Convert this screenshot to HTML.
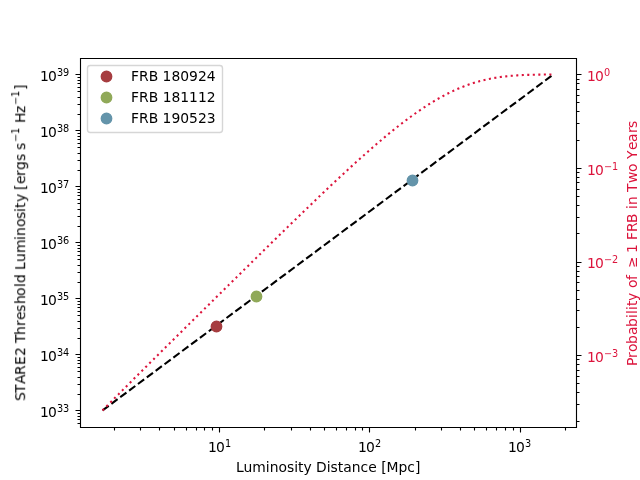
<!DOCTYPE html>
<html><head><meta charset="utf-8"><style>
html,body{margin:0;padding:0;background:#fff;width:640px;height:480px;overflow:hidden}
svg{display:block}
text{white-space:pre}
</style></head><body>
<svg width="640" height="480" viewBox="0 0 640 480">
<defs><clipPath id="clipax"><rect x="80.000" y="57.600" width="496.000" height="369.600"/></clipPath></defs>
<rect width="640" height="480" fill="#fff"/>
<g clip-path="url(#clipax)">
<path d="M 102.545 410.400 L 553.455 74.400" fill="none" stroke="#000" stroke-width="2.0833" stroke-dasharray="7.7083 3.3333" stroke-linecap="butt"/>
<circle cx="216.5" cy="326.5" r="5.2083" fill="#A63D40" stroke="#A63D40" stroke-width="1.3889"/>
<circle cx="256.5" cy="296.5" r="5.2083" fill="#90A959" stroke="#90A959" stroke-width="1.3889"/>
<circle cx="412.5" cy="180.5" r="5.2083" fill="#6494AA" stroke="#6494AA" stroke-width="1.3889"/>
</g>
<path d="M 102.55 410.40 L 103.68 409.25 L 104.81 408.11 L 105.94 406.97 L 107.07 405.82 L 108.20 404.68 L 109.33 403.54 L 110.46 402.40 L 111.59 401.26 L 112.72 400.12 L 113.85 398.98 L 114.98 397.84 L 116.11 396.71 L 117.24 395.57 L 118.37 394.43 L 119.50 393.30 L 120.63 392.16 L 121.76 391.03 L 122.89 389.89 L 124.02 388.76 L 125.15 387.63 L 126.28 386.50 L 127.41 385.36 L 128.54 384.23 L 129.67 383.10 L 130.80 381.97 L 131.93 380.84 L 133.06 379.71 L 134.19 378.58 L 135.32 377.45 L 136.45 376.33 L 137.58 375.20 L 138.71 374.07 L 139.84 372.94 L 140.97 371.82 L 142.10 370.69 L 143.23 369.57 L 144.36 368.44 L 145.49 367.31 L 146.62 366.19 L 147.75 365.07 L 148.88 363.94 L 150.01 362.82 L 151.14 361.69 L 152.27 360.57 L 153.40 359.45 L 154.53 358.33 L 155.66 357.20 L 156.79 356.08 L 157.92 354.96 L 159.05 353.84 L 160.18 352.72 L 161.31 351.60 L 162.44 350.47 L 163.57 349.35 L 164.70 348.23 L 165.83 347.11 L 166.96 345.99 L 168.09 344.87 L 169.22 343.75 L 170.35 342.63 L 171.48 341.52 L 172.61 340.40 L 173.74 339.28 L 174.87 338.16 L 176.00 337.04 L 177.13 335.92 L 178.26 334.80 L 179.39 333.69 L 180.52 332.57 L 181.65 331.45 L 182.78 330.33 L 183.91 329.21 L 185.04 328.10 L 186.17 326.98 L 187.30 325.86 L 188.43 324.75 L 189.56 323.63 L 190.69 322.51 L 191.82 321.39 L 192.95 320.28 L 194.08 319.16 L 195.21 318.04 L 196.34 316.93 L 197.47 315.81 L 198.60 314.70 L 199.73 313.58 L 200.86 312.46 L 201.99 311.35 L 203.12 310.23 L 204.25 309.12 L 205.38 308.00 L 206.51 306.88 L 207.64 305.77 L 208.77 304.65 L 209.90 303.54 L 211.03 302.42 L 212.16 301.31 L 213.30 300.19 L 214.43 299.08 L 215.56 297.96 L 216.69 296.85 L 217.82 295.73 L 218.95 294.62 L 220.08 293.50 L 221.21 292.39 L 222.34 291.27 L 223.47 290.16 L 224.60 289.04 L 225.73 287.93 L 226.86 286.81 L 227.99 285.70 L 229.12 284.58 L 230.25 283.47 L 231.38 282.36 L 232.51 281.24 L 233.64 280.13 L 234.77 279.01 L 235.90 277.90 L 237.03 276.79 L 238.16 275.67 L 239.29 274.56 L 240.42 273.45 L 241.55 272.33 L 242.68 271.22 L 243.81 270.11 L 244.94 268.99 L 246.07 267.88 L 247.20 266.77 L 248.33 265.66 L 249.46 264.54 L 250.59 263.43 L 251.72 262.32 L 252.85 261.21 L 253.98 260.10 L 255.11 258.99 L 256.24 257.87 L 257.37 256.76 L 258.50 255.65 L 259.63 254.54 L 260.76 253.43 L 261.89 252.32 L 263.02 251.21 L 264.15 250.10 L 265.28 248.99 L 266.41 247.88 L 267.54 246.77 L 268.67 245.67 L 269.80 244.56 L 270.93 243.45 L 272.06 242.34 L 273.19 241.23 L 274.32 240.13 L 275.45 239.02 L 276.58 237.91 L 277.71 236.81 L 278.84 235.70 L 279.97 234.60 L 281.10 233.49 L 282.23 232.39 L 283.36 231.28 L 284.49 230.18 L 285.62 229.08 L 286.75 227.98 L 287.88 226.87 L 289.01 225.77 L 290.14 224.67 L 291.27 223.57 L 292.40 222.47 L 293.53 221.37 L 294.66 220.27 L 295.79 219.18 L 296.92 218.08 L 298.05 216.98 L 299.18 215.89 L 300.31 214.79 L 301.44 213.70 L 302.57 212.60 L 303.70 211.51 L 304.83 210.42 L 305.96 209.33 L 307.09 208.23 L 308.22 207.15 L 309.35 206.06 L 310.48 204.97 L 311.61 203.88 L 312.74 202.79 L 313.87 201.71 L 315.00 200.63 L 316.13 199.54 L 317.26 198.46 L 318.39 197.38 L 319.52 196.30 L 320.65 195.22 L 321.78 194.14 L 322.91 193.07 L 324.04 191.99 L 325.17 190.92 L 326.30 189.84 L 327.43 188.77 L 328.57 187.70 L 329.70 186.63 L 330.83 185.57 L 331.96 184.50 L 333.09 183.44 L 334.22 182.37 L 335.35 181.31 L 336.48 180.25 L 337.61 179.20 L 338.74 178.14 L 339.87 177.08 L 341.00 176.03 L 342.13 174.98 L 343.26 173.93 L 344.39 172.88 L 345.52 171.84 L 346.65 170.80 L 347.78 169.75 L 348.91 168.72 L 350.04 167.68 L 351.17 166.64 L 352.30 165.61 L 353.43 164.58 L 354.56 163.55 L 355.69 162.53 L 356.82 161.50 L 357.95 160.48 L 359.08 159.46 L 360.21 158.45 L 361.34 157.43 L 362.47 156.42 L 363.60 155.42 L 364.73 154.41 L 365.86 153.41 L 366.99 152.41 L 368.12 151.41 L 369.25 150.42 L 370.38 149.43 L 371.51 148.44 L 372.64 147.46 L 373.77 146.48 L 374.90 145.50 L 376.03 144.53 L 377.16 143.56 L 378.29 142.59 L 379.42 141.63 L 380.55 140.67 L 381.68 139.72 L 382.81 138.77 L 383.94 137.82 L 385.07 136.87 L 386.20 135.94 L 387.33 135.00 L 388.46 134.07 L 389.59 133.14 L 390.72 132.22 L 391.85 131.31 L 392.98 130.39 L 394.11 129.49 L 395.24 128.58 L 396.37 127.68 L 397.50 126.79 L 398.63 125.90 L 399.76 125.02 L 400.89 124.14 L 402.02 123.27 L 403.15 122.40 L 404.28 121.54 L 405.41 120.69 L 406.54 119.83 L 407.67 118.99 L 408.80 118.15 L 409.93 117.32 L 411.06 116.49 L 412.19 115.67 L 413.32 114.86 L 414.45 114.05 L 415.58 113.25 L 416.71 112.46 L 417.84 111.67 L 418.97 110.89 L 420.10 110.11 L 421.23 109.34 L 422.36 108.58 L 423.49 107.83 L 424.62 107.09 L 425.75 106.35 L 426.88 105.62 L 428.01 104.89 L 429.14 104.18 L 430.27 103.47 L 431.40 102.77 L 432.53 102.08 L 433.66 101.39 L 434.79 100.72 L 435.92 100.05 L 437.05 99.39 L 438.18 98.74 L 439.31 98.09 L 440.44 97.46 L 441.57 96.83 L 442.70 96.22 L 443.84 95.61 L 444.97 95.01 L 446.10 94.42 L 447.23 93.84 L 448.36 93.27 L 449.49 92.70 L 450.62 92.15 L 451.75 91.61 L 452.88 91.07 L 454.01 90.54 L 455.14 90.03 L 456.27 89.52 L 457.40 89.02 L 458.53 88.53 L 459.66 88.06 L 460.79 87.59 L 461.92 87.13 L 463.05 86.68 L 464.18 86.24 L 465.31 85.81 L 466.44 85.39 L 467.57 84.98 L 468.70 84.58 L 469.83 84.18 L 470.96 83.80 L 472.09 83.43 L 473.22 83.07 L 474.35 82.71 L 475.48 82.37 L 476.61 82.03 L 477.74 81.71 L 478.87 81.39 L 480.00 81.09 L 481.13 80.79 L 482.26 80.50 L 483.39 80.22 L 484.52 79.95 L 485.65 79.69 L 486.78 79.43 L 487.91 79.19 L 489.04 78.95 L 490.17 78.73 L 491.30 78.51 L 492.43 78.29 L 493.56 78.09 L 494.69 77.90 L 495.82 77.71 L 496.95 77.53 L 498.08 77.36 L 499.21 77.19 L 500.34 77.03 L 501.47 76.88 L 502.60 76.73 L 503.73 76.60 L 504.86 76.46 L 505.99 76.34 L 507.12 76.22 L 508.25 76.10 L 509.38 76.00 L 510.51 75.89 L 511.64 75.80 L 512.77 75.70 L 513.90 75.62 L 515.03 75.53 L 516.16 75.46 L 517.29 75.38 L 518.42 75.31 L 519.55 75.25 L 520.68 75.19 L 521.81 75.13 L 522.94 75.07 L 524.07 75.02 L 525.20 74.98 L 526.33 74.93 L 527.46 74.89 L 528.59 74.85 L 529.72 74.82 L 530.85 74.78 L 531.98 74.75 L 533.11 74.72 L 534.24 74.70 L 535.37 74.67 L 536.50 74.65 L 537.63 74.63 L 538.76 74.61 L 539.89 74.59 L 541.02 74.57 L 542.15 74.56 L 543.28 74.54 L 544.41 74.53 L 545.54 74.52 L 546.67 74.51 L 547.80 74.50 L 548.93 74.49 L 550.06 74.48 L 551.19 74.47 L 552.32 74.46 L 553.45 74.46" fill="none" stroke="#dc143c" stroke-width="2.0833" stroke-dasharray="2.0833 3.4375" stroke-linecap="butt" clip-path="url(#clipax)"/>
<path d="M 219.5 427.5 V 432.5 M 369.5 427.5 V 432.5 M 520.5 427.5 V 432.5 M 114.5 427.5 V 430.5 M 140.5 427.5 V 430.5 M 159.5 427.5 V 430.5 M 174.5 427.5 V 430.5 M 186.5 427.5 V 430.5 M 196.5 427.5 V 430.5 M 204.5 427.5 V 430.5 M 212.5 427.5 V 430.5 M 264.5 427.5 V 430.5 M 291.5 427.5 V 430.5 M 310.5 427.5 V 430.5 M 324.5 427.5 V 430.5 M 336.5 427.5 V 430.5 M 346.5 427.5 V 430.5 M 355.5 427.5 V 430.5 M 362.5 427.5 V 430.5 M 415.5 427.5 V 430.5 M 441.5 427.5 V 430.5 M 460.5 427.5 V 430.5 M 474.5 427.5 V 430.5 M 486.5 427.5 V 430.5 M 496.5 427.5 V 430.5 M 505.5 427.5 V 430.5 M 513.5 427.5 V 430.5 M 565.5 427.5 V 430.5 M 80.5 410.5 H 75.5 M 80.5 354.5 H 75.5 M 80.5 298.5 H 75.5 M 80.5 242.5 H 75.5 M 80.5 186.5 H 75.5 M 80.5 130.5 H 75.5 M 80.5 74.5 H 75.5 M 80.5 423.5 H 77.5 M 80.5 419.5 H 77.5 M 80.5 416.5 H 77.5 M 80.5 413.5 H 77.5 M 80.5 394.5 H 77.5 M 80.5 384.5 H 77.5 M 80.5 377.5 H 77.5 M 80.5 371.5 H 77.5 M 80.5 367.5 H 77.5 M 80.5 363.5 H 77.5 M 80.5 360.5 H 77.5 M 80.5 357.5 H 77.5 M 80.5 338.5 H 77.5 M 80.5 328.5 H 77.5 M 80.5 321.5 H 77.5 M 80.5 315.5 H 77.5 M 80.5 311.5 H 77.5 M 80.5 307.5 H 77.5 M 80.5 304.5 H 77.5 M 80.5 301.5 H 77.5 M 80.5 282.5 H 77.5 M 80.5 272.5 H 77.5 M 80.5 265.5 H 77.5 M 80.5 259.5 H 77.5 M 80.5 255.5 H 77.5 M 80.5 251.5 H 77.5 M 80.5 248.5 H 77.5 M 80.5 245.5 H 77.5 M 80.5 226.5 H 77.5 M 80.5 216.5 H 77.5 M 80.5 209.5 H 77.5 M 80.5 203.5 H 77.5 M 80.5 199.5 H 77.5 M 80.5 195.5 H 77.5 M 80.5 192.5 H 77.5 M 80.5 189.5 H 77.5 M 80.5 170.5 H 77.5 M 80.5 160.5 H 77.5 M 80.5 153.5 H 77.5 M 80.5 147.5 H 77.5 M 80.5 143.5 H 77.5 M 80.5 139.5 H 77.5 M 80.5 136.5 H 77.5 M 80.5 133.5 H 77.5 M 80.5 114.5 H 77.5 M 80.5 104.5 H 77.5 M 80.5 97.5 H 77.5 M 80.5 91.5 H 77.5 M 80.5 87.5 H 77.5 M 80.5 83.5 H 77.5 M 80.5 80.5 H 77.5 M 80.5 77.5 H 77.5 M 576.5 355.5 H 581.5 M 576.5 262.5 H 581.5 M 576.5 168.5 H 581.5 M 576.5 74.5 H 581.5 M 576.5 421.5 H 579.5 M 576.5 404.5 H 579.5 M 576.5 392.5 H 579.5 M 576.5 383.5 H 579.5 M 576.5 376.5 H 579.5 M 576.5 370.5 H 579.5 M 576.5 364.5 H 579.5 M 576.5 359.5 H 579.5 M 576.5 327.5 H 579.5 M 576.5 310.5 H 579.5 M 576.5 299.5 H 579.5 M 576.5 290.5 H 579.5 M 576.5 282.5 H 579.5 M 576.5 276.5 H 579.5 M 576.5 271.5 H 579.5 M 576.5 266.5 H 579.5 M 576.5 233.5 H 579.5 M 576.5 217.5 H 579.5 M 576.5 205.5 H 579.5 M 576.5 196.5 H 579.5 M 576.5 189.5 H 579.5 M 576.5 182.5 H 579.5 M 576.5 177.5 H 579.5 M 576.5 172.5 H 579.5 M 576.5 140.5 H 579.5 M 576.5 123.5 H 579.5 M 576.5 111.5 H 579.5 M 576.5 102.5 H 579.5 M 576.5 95.5 H 579.5 M 576.5 89.5 H 579.5 M 576.5 83.5 H 579.5 M 576.5 79.5 H 579.5" fill="none" stroke="#000" stroke-width="1.1111"/>
<path d="M 80.5 427.5 V 58.5 M 576.5 427.5 V 58.5 M 80.5 427.5 H 576.5 M 80.5 58.5 H 576.5" fill="none" stroke="#000" stroke-width="1.1111" stroke-linecap="square" stroke-linejoin="miter"/>
<g><rect x="87.5" y="65.5" width="135.0" height="67.0" rx="2.778" fill="#fff" fill-opacity="0.8" stroke="#ccc" stroke-opacity="0.8" stroke-width="1.3889"/>
<circle cx="106.5" cy="76.5" r="5.2083" fill="#A63D40" stroke="#A63D40" stroke-width="1.3889"/>
<circle cx="106.5" cy="97.5" r="5.2083" fill="#90A959" stroke="#90A959" stroke-width="1.3889"/>
<circle cx="106.5" cy="118.5" r="5.2083" fill="#6494AA" stroke="#6494AA" stroke-width="1.3889"/></g>
<g transform="scale(1.3888889)" style="will-change:transform">
<g id="text_1" transform="translate(0.291 3.248)">
      
      <g transform="translate(148.90613 322.182437)">
       <text>
        <tspan x="0.5040" y="-0.064063" style="font-size: 10px; font-family: 'DejaVu Sans', sans-serif">1</tspan>
        <tspan x="6.362305" y="-0.064063" style="font-size: 10px; font-family: 'DejaVu Sans', sans-serif">0</tspan>
        <tspan x="12.820312" y="-3.892188" style="font-size: 7px; font-family: 'DejaVu Sans', sans-serif">1</tspan>
       </text>
      </g>
     </g>
    
<g id="text_2" transform="translate(0.054 4.145)">
      
      <g transform="translate(257.124312 322.182437)">
       <text>
        <tspan x="0.5040" y="-0.976562" style="font-size: 10px; font-family: 'DejaVu Sans', sans-serif">1</tspan>
        <tspan x="6.362305" y="-0.976562" style="font-size: 10px; font-family: 'DejaVu Sans', sans-serif">0</tspan>
        <tspan x="12.820312" y="-4.804688" style="font-size: 7px; font-family: 'DejaVu Sans', sans-serif">2</tspan>
       </text>
      </g>
     </g>
    
<g id="text_3" transform="translate(-0.245 4.172)">
      
      <g transform="translate(365.342494 322.182437)">
       <text>
        <tspan x="0.5760" y="-0.976562" style="font-size: 10px; font-family: 'DejaVu Sans', sans-serif">1</tspan>
        <tspan x="6.362305" y="-0.976562" style="font-size: 10px; font-family: 'DejaVu Sans', sans-serif">0</tspan>
        <tspan x="12.820312" y="-4.804688" style="font-size: 7px; font-family: 'DejaVu Sans', sans-serif">3</tspan>
       </text>
      </g>
     </g>
    
<g id="text_4" transform="translate(0.135 3.647)">
     <text style="font-size: 10px; font-family: 'DejaVu Sans', 'Bitstream Vera Sans', 'Computer Modern Sans Serif', 'Lucida Grande', 'Verdana', 'Geneva', 'Lucid', 'Arial', 'Helvetica', 'Avant Garde', sans-serif; text-anchor: middle" x="236.16" y="335.860562" transform="rotate(-0 236.16 335.860562)">Luminosity Distance [Mpc]</text>
    </g>
   
<g id="text_5" transform="translate(-0.280 1.842)">
      
      <g transform="translate(28.5 299.287219)">
       <text>
        <tspan x="0.5040" y="-0.976562" style="font-size: 10px; font-family: 'DejaVu Sans', sans-serif">1</tspan>
        <tspan x="6.362305" y="-0.976562" style="font-size: 10px; font-family: 'DejaVu Sans', sans-serif">0</tspan>
        <tspan x="12.820312" y="-4.804688" style="font-size: 7px; font-family: 'DejaVu Sans', sans-serif">3</tspan>
        <tspan x="17.0579" y="-4.804688" style="font-size: 7px; font-family: 'DejaVu Sans', sans-serif">3</tspan>
       </text>
      </g>
     </g>
    
<g id="text_6" transform="translate(-0.271 1.823)">
      
      <g transform="translate(28.5 258.967219)">
       <text>
        <tspan x="0.5040" y="-0.976562" style="font-size: 10px; font-family: 'DejaVu Sans', sans-serif">1</tspan>
        <tspan x="6.362305" y="-0.976562" style="font-size: 10px; font-family: 'DejaVu Sans', sans-serif">0</tspan>
        <tspan x="12.820312" y="-4.804688" style="font-size: 7px; font-family: 'DejaVu Sans', sans-serif">3</tspan>
        <tspan x="17.0579" y="-4.804688" style="font-size: 7px; font-family: 'DejaVu Sans', sans-serif">4</tspan>
       </text>
      </g>
     </g>
    
<g id="text_7" transform="translate(-0.322 1.806)">
      
      <g transform="translate(28.5 218.647219)">
       <text>
        <tspan x="0.5760" y="-0.976562" style="font-size: 10px; font-family: 'DejaVu Sans', sans-serif">1</tspan>
        <tspan x="6.362305" y="-0.976562" style="font-size: 10px; font-family: 'DejaVu Sans', sans-serif">0</tspan>
        <tspan x="12.820312" y="-4.804688" style="font-size: 7px; font-family: 'DejaVu Sans', sans-serif">3</tspan>
        <tspan x="17.273926" y="-4.804688" style="font-size: 7px; font-family: 'DejaVu Sans', sans-serif">5</tspan>
       </text>
      </g>
     </g>
    
<g id="text_8" transform="translate(-0.308 1.834)">
      
      <g transform="translate(28.5 178.327219)">
       <text>
        <tspan x="0.5760" y="-0.976562" style="font-size: 10px; font-family: 'DejaVu Sans', sans-serif">1</tspan>
        <tspan x="6.362305" y="-0.976562" style="font-size: 10px; font-family: 'DejaVu Sans', sans-serif">0</tspan>
        <tspan x="12.820312" y="-4.804688" style="font-size: 7px; font-family: 'DejaVu Sans', sans-serif">3</tspan>
        <tspan x="17.1299" y="-4.804688" style="font-size: 7px; font-family: 'DejaVu Sans', sans-serif">6</tspan>
       </text>
      </g>
     </g>
    
<g id="text_9" transform="translate(-0.315 1.804)">
      
      <g transform="translate(28.5 138.007219)">
       <text>
        <tspan x="0.5760" y="-0.976562" style="font-size: 10px; font-family: 'DejaVu Sans', sans-serif">1</tspan>
        <tspan x="6.362305" y="-0.976562" style="font-size: 10px; font-family: 'DejaVu Sans', sans-serif">0</tspan>
        <tspan x="12.820312" y="-4.804688" style="font-size: 7px; font-family: 'DejaVu Sans', sans-serif">3</tspan>
        <tspan x="17.1299" y="-4.804688" style="font-size: 7px; font-family: 'DejaVu Sans', sans-serif">7</tspan>
       </text>
      </g>
     </g>
    
<g id="text_10" transform="translate(-0.291 1.847)">
      
      <g transform="translate(28.5 97.687219)">
       <text>
        <tspan x="0.5760" y="-0.976562" style="font-size: 10px; font-family: 'DejaVu Sans', sans-serif">1</tspan>
        <tspan x="6.362305" y="-0.976562" style="font-size: 10px; font-family: 'DejaVu Sans', sans-serif">0</tspan>
        <tspan x="12.820312" y="-4.804688" style="font-size: 7px; font-family: 'DejaVu Sans', sans-serif">3</tspan>
        <tspan x="17.1299" y="-4.804688" style="font-size: 7px; font-family: 'DejaVu Sans', sans-serif">8</tspan>
       </text>
      </g>
     </g>
    
<g id="text_11" transform="translate(-0.291 1.848)">
      
      <g transform="translate(28.5 57.367219)">
       <text>
        <tspan x="0.5760" y="-0.976562" style="font-size: 10px; font-family: 'DejaVu Sans', sans-serif">1</tspan>
        <tspan x="6.362305" y="-0.976562" style="font-size: 10px; font-family: 'DejaVu Sans', sans-serif">0</tspan>
        <tspan x="12.820312" y="-4.804688" style="font-size: 7px; font-family: 'DejaVu Sans', sans-serif">3</tspan>
        <tspan x="17.1299" y="-4.804688" style="font-size: 7px; font-family: 'DejaVu Sans', sans-serif">9</tspan>
       </text>
      </g>
     </g>
    
<g id="text_12" transform="translate(-4.470 0.491)">
     
     <g transform="translate(22.4 288.578) rotate(-90)">
      <text>
       <tspan x="0.2880" y="-0.064063" style="font-size: 10px; font-family: 'DejaVu Sans', sans-serif">S</tspan>
       <tspan x="6.0597" y="-0.064063" style="font-size: 10px; font-family: 'DejaVu Sans', sans-serif">T</tspan>
       <tspan x="12.5281" y="-0.064063" style="font-size: 10px; font-family: 'DejaVu Sans', sans-serif">A</tspan>
       <tspan x="19.0089" y="-0.064063" style="font-size: 10px; font-family: 'DejaVu Sans', sans-serif">R</tspan>
       <tspan x="26.245117" y="-0.064063" style="font-size: 10px; font-family: 'DejaVu Sans', sans-serif">E</tspan>
       <tspan x="32.7075" y="-0.064063" style="font-size: 10px; font-family: 'DejaVu Sans', sans-serif">2</tspan>
       <tspan x="38.925781" y="-0.064063" style="font-size: 10px; font-family: 'DejaVu Sans', sans-serif"> </tspan>
       <tspan x="42.104492" y="-0.064063" style="font-size: 10px; font-family: 'DejaVu Sans', sans-serif">T</tspan>
       <tspan x="47.8529" y="-0.064063" style="font-size: 10px; font-family: 'DejaVu Sans', sans-serif">h</tspan>
       <tspan x="54.3348" y="-0.064063" style="font-size: 10px; font-family: 'DejaVu Sans', sans-serif">r</tspan>
       <tspan x="58.662109" y="-0.064063" style="font-size: 10px; font-family: 'DejaVu Sans', sans-serif">e</tspan>
       <tspan x="64.3825" y="-0.064063" style="font-size: 10px; font-family: 'DejaVu Sans', sans-serif">s</tspan>
       <tspan x="70.1684" y="-0.064063" style="font-size: 10px; font-family: 'DejaVu Sans', sans-serif">h</tspan>
       <tspan x="75.9303" y="-0.064063" style="font-size: 10px; font-family: 'DejaVu Sans', sans-serif">o</tspan>
       <tspan x="82.480469" y="-0.064063" style="font-size: 10px; font-family: 'DejaVu Sans', sans-serif">l</tspan>
       <tspan x="85.258789" y="-0.064063" style="font-size: 10px; font-family: 'DejaVu Sans', sans-serif">d</tspan>
       <tspan x="91.606445" y="-0.064063" style="font-size: 10px; font-family: 'DejaVu Sans', sans-serif"> </tspan>
       <tspan x="94.6412" y="-0.064063" style="font-size: 10px; font-family: 'DejaVu Sans', sans-serif">L</tspan>
       <tspan x="100.356445" y="-0.064063" style="font-size: 10px; font-family: 'DejaVu Sans', sans-serif">u</tspan>
       <tspan x="106.8383" y="-0.064063" style="font-size: 10px; font-family: 'DejaVu Sans', sans-serif">m</tspan>
       <tspan x="116.2195" y="-0.064063" style="font-size: 10px; font-family: 'DejaVu Sans', sans-serif">i</tspan>
       <tspan x="119.213867" y="-0.064063" style="font-size: 10px; font-family: 'DejaVu Sans', sans-serif">n</tspan>
       <tspan x="125.551758" y="-0.064063" style="font-size: 10px; font-family: 'DejaVu Sans', sans-serif">o</tspan>
       <tspan x="131.3819" y="-0.064063" style="font-size: 10px; font-family: 'DejaVu Sans', sans-serif">s</tspan>
       <tspan x="136.3759" y="-0.064063" style="font-size: 10px; font-family: 'DejaVu Sans', sans-serif">i</tspan>
       <tspan x="139.2982" y="-0.064063" style="font-size: 10px; font-family: 'DejaVu Sans', sans-serif">t</tspan>
       <tspan x="143.579102" y="-0.064063" style="font-size: 10px; font-family: 'DejaVu Sans', sans-serif">y</tspan>
       <tspan x="149.49707" y="-0.064063" style="font-size: 10px; font-family: 'DejaVu Sans', sans-serif"> </tspan>
       <tspan x="152.2438" y="-0.064063" style="font-size: 10px; font-family: 'DejaVu Sans', sans-serif">[</tspan>
       <tspan x="156.577148" y="-0.064063" style="font-size: 10px; font-family: 'DejaVu Sans', sans-serif">e</tspan>
       <tspan x="162.2975" y="-0.064063" style="font-size: 10px; font-family: 'DejaVu Sans', sans-serif">r</tspan>
       <tspan x="166.6248" y="-0.064063" style="font-size: 10px; font-family: 'DejaVu Sans', sans-serif">g</tspan>
       <tspan x="173.188477" y="-0.064063" style="font-size: 10px; font-family: 'DejaVu Sans', sans-serif">s</tspan>
       <tspan x="178.398438" y="-0.064063" style="font-size: 10px; font-family: 'DejaVu Sans', sans-serif"> </tspan>
       <tspan x="181.0011" y="-0.064063" style="font-size: 10px; font-family: 'DejaVu Sans', sans-serif">s</tspan>
       <tspan x="197.475098" y="-0.064063" style="font-size: 10px; font-family: 'DejaVu Sans', sans-serif"> </tspan>
       <tspan x="200.4378" y="-0.064063" style="font-size: 10px; font-family: 'DejaVu Sans', sans-serif">H</tspan>
       <tspan x="207.6693" y="-0.064063" style="font-size: 10px; font-family: 'DejaVu Sans', sans-serif">z</tspan>
       <tspan x="224.2544" y="-0.064063" style="font-size: 10px; font-family: 'DejaVu Sans', sans-serif">]</tspan>
       <tspan x="186.882812" y="-3.892188" style="font-size: 7px; font-family: 'DejaVu Sans', sans-serif">−</tspan>
       <tspan x="192.5320" y="-3.892188" style="font-size: 7px; font-family: 'DejaVu Sans', sans-serif">1</tspan>
       <tspan x="213.518066" y="-3.892188" style="font-size: 7px; font-family: 'DejaVu Sans', sans-serif">−</tspan>
       <tspan x="219.1673" y="-3.892188" style="font-size: 7px; font-family: 'DejaVu Sans', sans-serif">1</tspan>
      </text>
     </g>
    </g>
   
<g id="text_13" transform="translate(-0.234 -0.058)">
     <text style="font-size: 10px; font-family: 'DejaVu Sans', 'Bitstream Vera Sans', 'Computer Modern Sans Serif', 'Lucida Grande', 'Verdana', 'Geneva', 'Lucid', 'Arial', 'Helvetica', 'Avant Garde', sans-serif; text-anchor: start" x="94.6" y="58.070438" transform="rotate(-0 94.6 58.070438)">FRB 180924</text>
    </g>
    
<g id="text_14" transform="translate(-0.211 0.395)">
     <text style="font-size: 10px; font-family: 'DejaVu Sans', 'Bitstream Vera Sans', 'Computer Modern Sans Serif', 'Lucida Grande', 'Verdana', 'Geneva', 'Lucid', 'Arial', 'Helvetica', 'Avant Garde', sans-serif; text-anchor: start" x="94.6" y="72.748563" transform="rotate(-0 94.6 72.748563)">FRB 181112</text>
    </g>
    
<g id="text_15" transform="translate(-0.230 0.822)">
     <text style="font-size: 10px; font-family: 'DejaVu Sans', 'Bitstream Vera Sans', 'Computer Modern Sans Serif', 'Lucida Grande', 'Verdana', 'Geneva', 'Lucid', 'Arial', 'Helvetica', 'Avant Garde', sans-serif; text-anchor: start" x="94.6" y="87.426688" transform="rotate(-0 94.6 87.426688)">FRB 190523</text>
    </g>
   
<g id="text_16" transform="translate(0.350 2.034)">
      
      <g style="fill: #dc143c" transform="translate(421.72 259.513915)">
       <text>
        <tspan x="0.5040" y="-0.976562" style="font-size: 10px; font-family: 'DejaVu Sans', sans-serif; fill: #dc143c">1</tspan>
        <tspan x="6.362305" y="-0.976562" style="font-size: 10px; font-family: 'DejaVu Sans', sans-serif; fill: #dc143c">0</tspan>
        <tspan x="12.820312" y="-4.804688" style="font-size: 7px; font-family: 'DejaVu Sans', sans-serif; fill: #dc143c">−</tspan>
        <tspan x="18.5415" y="-4.804688" style="font-size: 7px; font-family: 'DejaVu Sans', sans-serif; fill: #dc143c">3</tspan>
       </text>
      </g>
     </g>
    
<g id="text_17" transform="translate(0.317 1.757)">
      
      <g style="fill: #dc143c" transform="translate(421.72 192.090019)">
       <text>
        <tspan x="0.5760" y="-0.976562" style="font-size: 10px; font-family: 'DejaVu Sans', sans-serif; fill: #dc143c">1</tspan>
        <tspan x="6.362305" y="-0.976562" style="font-size: 10px; font-family: 'DejaVu Sans', sans-serif; fill: #dc143c">0</tspan>
        <tspan x="12.820312" y="-4.804688" style="font-size: 7px; font-family: 'DejaVu Sans', sans-serif; fill: #dc143c">−</tspan>
        <tspan x="18.685547" y="-4.804688" style="font-size: 7px; font-family: 'DejaVu Sans', sans-serif; fill: #dc143c">2</tspan>
       </text>
      </g>
     </g>
    
<g id="text_18" transform="translate(0.361 1.294)">
      
      <g style="fill: #dc143c" transform="translate(421.72 124.666123)">
       <text>
        <tspan x="0.5040" y="-0.064063" style="font-size: 10px; font-family: 'DejaVu Sans', sans-serif; fill: #dc143c">1</tspan>
        <tspan x="6.362305" y="-0.064063" style="font-size: 10px; font-family: 'DejaVu Sans', sans-serif; fill: #dc143c">0</tspan>
        <tspan x="12.820312" y="-3.892188" style="font-size: 7px; font-family: 'DejaVu Sans', sans-serif; fill: #dc143c">−</tspan>
        <tspan x="18.5415" y="-3.892188" style="font-size: 7px; font-family: 'DejaVu Sans', sans-serif; fill: #dc143c">1</tspan>
       </text>
      </g>
     </g>
    
<g id="text_19" transform="translate(0.348 1.923)">
      
      <g style="fill: #dc143c" transform="translate(421.72 57.242227)">
       <text>
        <tspan x="0.5040" y="-0.976562" style="font-size: 10px; font-family: 'DejaVu Sans', sans-serif; fill: #dc143c">1</tspan>
        <tspan x="6.362305" y="-0.976562" style="font-size: 10px; font-family: 'DejaVu Sans', sans-serif; fill: #dc143c">0</tspan>
        <tspan x="12.820312" y="-4.804688" style="font-size: 7px; font-family: 'DejaVu Sans', sans-serif; fill: #dc143c">0</tspan>
       </text>
      </g>
     </g>
    
<g id="text_20" transform="translate(1.904 0.711)">
     
     <g style="fill: #dc143c" transform="translate(456.82 263.228) rotate(-90)">
      <text>
       <tspan x="0.3600" y="-0.40625" style="font-size: 10px; font-family: 'DejaVu Sans', sans-serif; fill: #dc143c">P</tspan>
       <tspan x="6.1023" y="-0.40625" style="font-size: 10px; font-family: 'DejaVu Sans', sans-serif; fill: #dc143c">r</tspan>
       <tspan x="10.4296" y="-0.40625" style="font-size: 10px; font-family: 'DejaVu Sans', sans-serif; fill: #dc143c">o</tspan>
       <tspan x="16.259766" y="-0.40625" style="font-size: 10px; font-family: 'DejaVu Sans', sans-serif; fill: #dc143c">b</tspan>
       <tspan x="22.6794" y="-0.40625" style="font-size: 10px; font-family: 'DejaVu Sans', sans-serif; fill: #dc143c">a</tspan>
       <tspan x="28.4474" y="-0.40625" style="font-size: 10px; font-family: 'DejaVu Sans', sans-serif; fill: #dc143c">b</tspan>
       <tspan x="34.9390" y="-0.40625" style="font-size: 10px; font-family: 'DejaVu Sans', sans-serif; fill: #dc143c">i</tspan>
       <tspan x="37.861328" y="-0.40625" style="font-size: 10px; font-family: 'DejaVu Sans', sans-serif; fill: #dc143c">l</tspan>
       <tspan x="40.7116" y="-0.40625" style="font-size: 10px; font-family: 'DejaVu Sans', sans-serif; fill: #dc143c">i</tspan>
       <tspan x="43.5620" y="-0.40625" style="font-size: 10px; font-family: 'DejaVu Sans', sans-serif; fill: #dc143c">t</tspan>
       <tspan x="47.1949" y="-0.40625" style="font-size: 10px; font-family: 'DejaVu Sans', sans-serif; fill: #dc143c">y</tspan>
       <tspan x="53.256836" y="-0.40625" style="font-size: 10px; font-family: 'DejaVu Sans', sans-serif; fill: #dc143c"> </tspan>
       <tspan x="56.5075" y="-0.40625" style="font-size: 10px; font-family: 'DejaVu Sans', sans-serif; fill: #dc143c">o</tspan>
       <tspan x="62.2657" y="-0.40625" style="font-size: 10px; font-family: 'DejaVu Sans', sans-serif; fill: #dc143c">f</tspan>
       <tspan x="66.074219" y="-0.40625" style="font-size: 10px; font-family: 'DejaVu Sans', sans-serif; fill: #dc143c"> </tspan>
       <tspan x="70.9132" y="-0.40625" style="font-size: 10px; font-family: 'DejaVu Sans', sans-serif; fill: #dc143c">≥</tspan>
       <tspan x="81.7443" y="-0.40625" style="font-size: 10px; font-family: 'DejaVu Sans', sans-serif; fill: #dc143c">1</tspan>
       <tspan x="87.890625" y="-0.40625" style="font-size: 10px; font-family: 'DejaVu Sans', sans-serif; fill: #dc143c"> </tspan>
       <tspan x="91.069336" y="-0.40625" style="font-size: 10px; font-family: 'DejaVu Sans', sans-serif; fill: #dc143c">F</tspan>
       <tspan x="96.821289" y="-0.40625" style="font-size: 10px; font-family: 'DejaVu Sans', sans-serif; fill: #dc143c">R</tspan>
       <tspan x="103.3375" y="-0.40625" style="font-size: 10px; font-family: 'DejaVu Sans', sans-serif; fill: #dc143c">B</tspan>
       <tspan x="110.629883" y="-0.40625" style="font-size: 10px; font-family: 'DejaVu Sans', sans-serif; fill: #dc143c"> </tspan>
       <tspan x="113.4486" y="-0.40625" style="font-size: 10px; font-family: 'DejaVu Sans', sans-serif; fill: #dc143c">i</tspan>
       <tspan x="116.2989" y="-0.40625" style="font-size: 10px; font-family: 'DejaVu Sans', sans-serif; fill: #dc143c">n</tspan>
       <tspan x="122.924805" y="-0.40625" style="font-size: 10px; font-family: 'DejaVu Sans', sans-serif; fill: #dc143c"> </tspan>
       <tspan x="125.6715" y="-0.40625" style="font-size: 10px; font-family: 'DejaVu Sans', sans-serif; fill: #dc143c">T</tspan>
       <tspan x="132.211914" y="-0.40625" style="font-size: 10px; font-family: 'DejaVu Sans', sans-serif; fill: #dc143c">w</tspan>
       <tspan x="140.0306" y="-0.40625" style="font-size: 10px; font-family: 'DejaVu Sans', sans-serif; fill: #dc143c">o</tspan>
       <tspan x="146.508789" y="-0.40625" style="font-size: 10px; font-family: 'DejaVu Sans', sans-serif; fill: #dc143c"> </tspan>
       <tspan x="149.3995" y="-0.40625" style="font-size: 10px; font-family: 'DejaVu Sans', sans-serif; fill: #dc143c">Y</tspan>
       <tspan x="155.8679" y="-0.40625" style="font-size: 10px; font-family: 'DejaVu Sans', sans-serif; fill: #dc143c">e</tspan>
       <tspan x="161.6602" y="-0.40625" style="font-size: 10px; font-family: 'DejaVu Sans', sans-serif; fill: #dc143c">a</tspan>
       <tspan x="168.1482" y="-0.40625" style="font-size: 10px; font-family: 'DejaVu Sans', sans-serif; fill: #dc143c">r</tspan>
       <tspan x="171.7555" y="-0.40625" style="font-size: 10px; font-family: 'DejaVu Sans', sans-serif; fill: #dc143c">s</tspan>
      </text>
     </g>
    </g>
   
</g>
</svg>
</body></html>
